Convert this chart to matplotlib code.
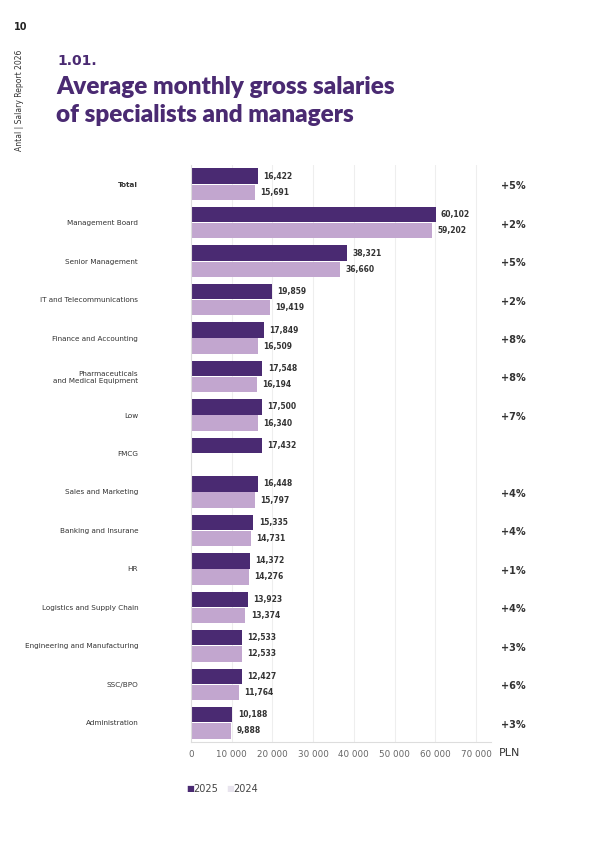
import matplotlib
matplotlib.use("Agg")
import matplotlib.pyplot as plt
import numpy as np

categories = ["Total", "Management Board", "Senior Management", "IT and Telecommunications",
              "Finance and Accounting", "Pharmaceuticals\nand Medical Equipment", "Low", "FMCG",
              "Sales and Marketing", "Banking and Insurane", "HR", "Logistics and Supply Chain",
              "Engineering and Manufacturing", "SSC/BPO", "Administration"]
v2025 = [16422, 60102, 38321, 19859, 17849, 17548, 17500, 17432, 16448, 15335, 14372, 13923, 12533, 12427, 10188]
v2024 = [15691, 59202, 36660, 19419, 16509, 16194, 16340, None, 15797, 14731, 14276, 13374, 12533, 11764, 9888]
changes = ["+5%", "+2%", "+5%", "+2%", "+8%", "+8%", "+7%", "", "+4%", "+4%", "+1%", "+4%", "+3%", "+6%", "+3%"]
ticks = [0, 10000, 20000, 30000, 40000, 50000, 60000, 70000]

c25 = "#4a2a72"; c24 = "#c2a6cf"; tc = "#4a2a72"
fig = plt.figure(figsize=(5.95, 8.42), dpi=100)
W, H = 595, 842
ax = fig.add_axes([191/W, 1-742/H, 300/W, (742-165)/H])
n = len(categories)
y = np.arange(n)
h = 0.4
for i in range(n):
    ax.barh(i - 0.21, v2025[i], height=h, color=c25)
    ax.text(v2025[i] + 1300, i - 0.21, f"{v2025[i]:,}", va="center", fontsize=5.5, color="#333",
            fontweight="bold")
    if v2024[i] is not None:
        ax.barh(i + 0.21, v2024[i], height=h, color=c24)
        ax.text(v2024[i] + 1300, i + 0.21, f"{v2024[i]:,}", va="center", fontsize=5.5, color="#333",
                fontweight="bold")
    if changes[i]:
        ax.text(1.073, i + 0.05, changes[i], transform=ax.get_yaxis_transform(), ha="center",
                va="center", fontsize=7, color="#333", fontweight="bold")
ax.set_ylim(n - 0.5, -0.5)
ax.set_xlim(0, 73700)
ax.set_yticks(y)
ax.set_yticklabels(categories, fontsize=5.2, color="#333")
ax.get_yticklabels()[0].set_fontweight("bold")
ax.tick_params(axis="y", length=0, pad=38)
ax.set_xticks(ticks)
ax.set_xticklabels([f"{t:,}".replace(",", " ") for t in ticks], fontsize=6.3, color="#666")
ax.tick_params(axis="x", length=0, pad=6)
ax.grid(axis="x", color="#eeeeee", lw=0.8)
ax.set_axisbelow(True)
for s in ["top", "right"]:
    ax.spines[s].set_visible(False)
ax.spines["left"].set_color("#dddddd")
ax.spines["bottom"].set_color("#dddddd")
fig.text(499/W, 1-753/H, "PLN", fontsize=8, color="#333", va="center")
fig.text(186/W, 1-789/H, "■", fontsize=6, color=c25, va="center")
fig.text(193/W, 1-789/H, "2025", fontsize=7, color="#444", va="center")
fig.text(226/W, 1-789/H, "■", fontsize=6, color="#e8e4ee", va="center")
fig.text(233/W, 1-789/H, "2024", fontsize=7, color="#444", va="center")

fig.text(14/W, 1-27/H, "10", fontsize=7, fontweight="bold", color="#222", va="center")
fig.text(20/W, 1-100/H, "Antal | Salary Report 2026", fontsize=5.5, rotation=90, color="#333",
         ha="center", va="center")
fig.text(57/W, 1-61/H, "1.01.", fontsize=10, color=tc, va="center", fontweight="bold")
fig.text(56/W, 1-87/H, "Average monthly gross salaries", fontsize=17.5, color=tc, va="center",
         fontweight="heavy", family="Lato")
fig.text(56/W, 1-115/H, "of specialists and managers", fontsize=17.5, color=tc, va="center",
         fontweight="heavy", family="Lato")
fig.savefig("out.png", dpi=100)
